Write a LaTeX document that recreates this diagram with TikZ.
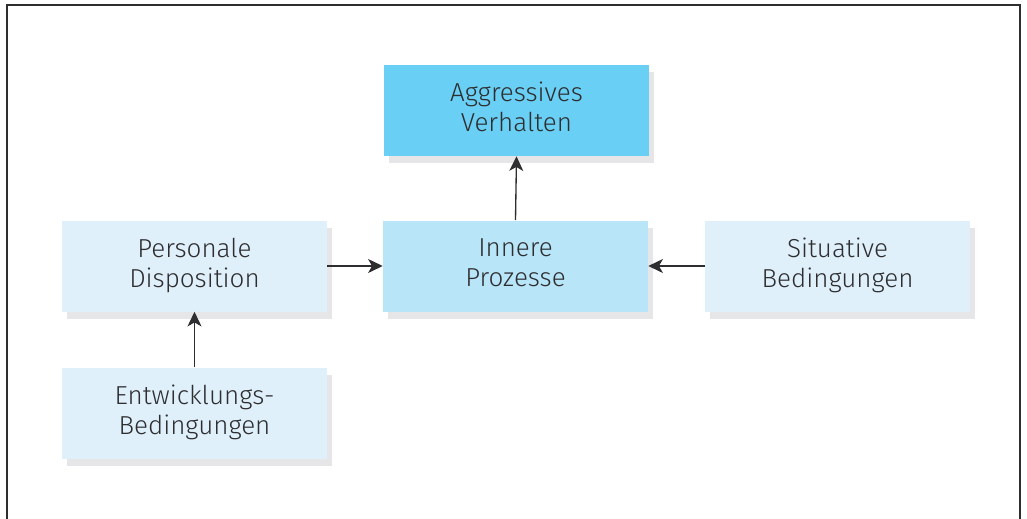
\documentclass[tikz,border=0pt]{standalone}
\usepackage{fontspec}
\setmainfont{Fira Sans}[UprightFont=* Light]
\usepackage{tikz}
\usetikzlibrary{arrows.meta,shadows}

\definecolor{darkcyan}{HTML}{6ACFF4}
\definecolor{midcyan}{HTML}{B9E5F9}
\definecolor{palecyan}{HTML}{DFF0FB}
\definecolor{shadowgray}{HTML}{E6E6E8}
\definecolor{inkgray}{HTML}{2E2E30}

\begin{document}
\begin{tikzpicture}[x=0.75pt,y=-0.75pt,
    box/.style={minimum width=198.75pt,minimum height=68.25pt,inner sep=0pt,
      align=center,text=inkgray,font=\fontsize{19.5}{22.5}\selectfont,text depth=5pt,
      drop shadow={shadow xshift=4pt,shadow yshift=-5.25pt,fill=shadowgray,opacity=1}},
    link/.style={draw=inkgray,line width=1pt,-{Stealth[length=11pt,width=10.5pt,inset=3pt]}}]
    \useasboundingbox (0,0) rectangle (1027,518);
    \draw[inkgray,line width=1.5pt] (7,520) -- (7,5) -- (1020,5) -- (1020,520);

    \node[box,fill=darkcyan] (verhalten) at (516.5,110.5) {Aggressives\\Verhalten};
    \node[box,fill=midcyan] (prozesse) at (515.5,266) {Innere\\Prozesse};
    \node[box,fill=palecyan] (disposition) at (194.5,266) {Personale\\Disposition};
    \node[box,fill=palecyan] (situativ) at (837.5,266) {Situative\\Bedingungen};
    \node[box,fill=palecyan] (entwicklung) at (194.5,413) {Entwicklungs-\\Bedingungen};

    \draw[link] (prozesse.north) -- (verhalten.south);
    \draw[link] (disposition.east) -- (prozesse.west);
    \draw[link] (situativ.west) -- (prozesse.east);
    \draw[link] (entwicklung.north) -- (disposition.south);
\end{tikzpicture}
\end{document}
